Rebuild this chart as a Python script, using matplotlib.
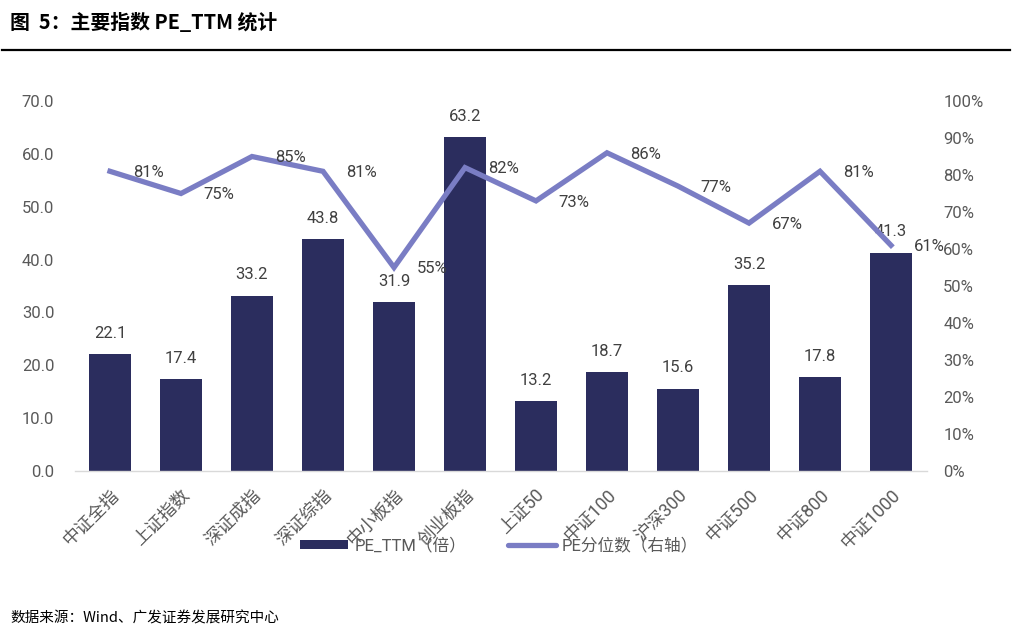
import matplotlib
matplotlib.use("Agg")
import matplotlib.pyplot as plt
from matplotlib.lines import Line2D
from matplotlib.patches import Patch

plt.rcParams['font.family'] = ['Roboto', 'Noto Sans CJK SC', 'DejaVu Sans']

categories = ["中证全指", "上证指数", "深证成指", "深证综指", "中小板指", "创业板指",
              "上证50", "中证100", "沪深300", "中证500", "中证800", "中证1000"]
pe_ttm = [22.1, 17.4, 33.2, 43.8, 31.9, 63.2, 13.2, 18.7, 15.6, 35.2, 17.8, 41.3]
pe_pct = [81, 75, 85, 81, 55, 82, 73, 86, 77, 67, 81, 61]
left_ticks = [0, 10, 20, 30, 40, 50, 60, 70]
right_ticks = [0, 10, 20, 30, 40, 50, 60, 70, 80, 90, 100]

bar_color = "#2B2D5E"
line_color = "#7A7DC4"
txt = "#595959"
lbl = "#404040"
fs = 12

W, H = 1013, 641
fig = plt.figure(figsize=(W / 100, H / 100), dpi=100)
ax = fig.add_axes([74.5 / W, 1 - 471 / H, (926.5 - 74.5) / W, (471 - 101) / H])
ax2 = ax.twinx()

x = list(range(len(categories)))
ax.bar(x, pe_ttm, width=0.58, color=bar_color, zorder=2)
ax.set_xlim(-0.5, len(categories) - 0.5)
ax.set_ylim(0, 70)
ax.set_yticks(left_ticks)
ax.set_yticklabels([f"{v:.1f}" for v in left_ticks])

ax2.plot(x, pe_pct, color=line_color, lw=3.8, solid_joinstyle='miter', zorder=3)
ax2.set_ylim(0, 100)
ax2.set_yticks(right_ticks)
ax2.set_yticklabels([f"{v}%" for v in right_ticks])

for a in (ax, ax2):
    for s in a.spines.values():
        s.set_visible(False)
    a.tick_params(length=0, colors=txt, labelsize=fs)
ax.spines['bottom'].set_visible(True)
ax.spines['bottom'].set_color("#D9D9D9")
ax.spines['bottom'].set_linewidth(1)
ax.tick_params(axis='y', pad=14.5)
ax2.tick_params(axis='y', pad=12)

ax.set_xticks(x)
ax.set_xticklabels(categories, rotation=45, ha='right', va='top', rotation_mode='anchor',
                   fontsize=12.8, color=txt)
ax.tick_params(axis='x', pad=11)

for xi, v in zip(x, pe_ttm):
    ax.annotate(f"{v:.1f}", (xi, v), xytext=(0, 15), textcoords='offset points',
                ha='center', va='center', fontsize=fs, color=lbl, zorder=5)
for xi, v in zip(x, pe_pct):
    ax2.annotate(f"{v}%", (xi, v), xytext=(27.5, -1), textcoords='offset points',
                 ha='center', va='center', fontsize=fs, color=lbl, zorder=5)

handles = [Patch(facecolor=bar_color, edgecolor='none'),
           Line2D([0], [0], color=line_color, lw=3.8, solid_capstyle='round')]
fig.legend(handles, ["PE_TTM（倍）", "PE分位数（右轴）"], loc='center',
           bbox_to_anchor=(499 / W, 1 - 545 / H), ncol=2, frameon=False,
           fontsize=fs, handlelength=2.9, handleheight=0.45, handletextpad=0.35,
           columnspacing=2.5, labelcolor=txt)

fig.text(10 / W, 1 - 23 / H, "图  5：主要指数 PE_TTM 统计", fontsize=14.3, fontweight='bold',
         family=['Noto Sans CJK SC', 'DejaVu Sans'], ha='left', va='center', color='#000000')
fig.add_artist(Line2D([2 / W, 1010 / W], [1 - 50 / H, 1 - 50 / H], color='black', lw=1.6))
fig.text(10 / W, 1 - 618 / H, "数据来源：Wind、广发证券发展研究中心", fontsize=10.5,
         family=['Noto Sans CJK SC', 'DejaVu Sans'], ha='left', va='center', color='#000000')

fig.savefig("out.png", dpi=100)
